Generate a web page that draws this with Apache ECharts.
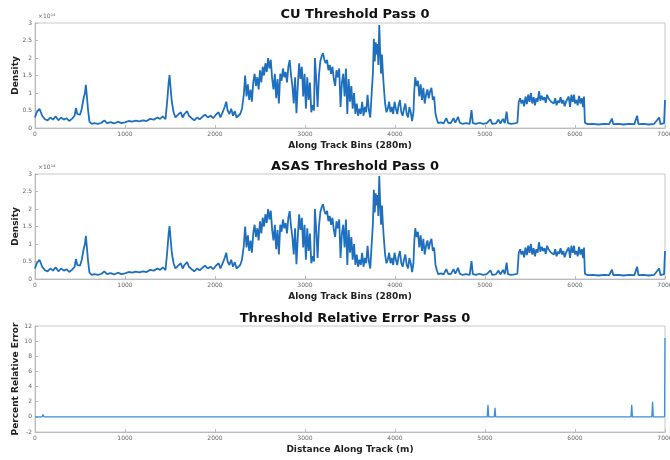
<!DOCTYPE html>
<html>
<head>
<meta charset="utf-8">
<script src="https://cdn.jsdelivr.net/npm/echarts@6/dist/echarts.min.js"></script>
<style>
html,body{margin:0;padding:0;background:#fff;}
#c{width:670px;height:460px;}
</style>
</head>
<body>
<div id="c"></div>
<script>
// Along-track bins (x) and density values in units of 1e14
const cuBins = [0,20,50,80,110,140,170,200,230,260,290,320,350,380,410,440,455,470,500,520,540,555,565,575,590,605,630,660,700,740,770,800,840,880,920,960,1000,1040,1080,1120,1160,1200,1240,1280,1320,1360,1390,1420,1450,1470,1485,1495,1505,1520,1540,1560,1590,1620,1640,1660,1690,1710,1740,1770,1800,1830,1860,1890,1920,1950,1980,2010,2040,2060,2090,2110,2125,2140,2160,2180,2200,2220,2240,2260,2280,2300,2320,2335,2350,2365,2380,2395,2410,2425,2440,2455,2470,2485,2500,2515,2530,2545,2560,2575,2590,2605,2620,2635,2650,2665,2680,2695,2710,2725,2740,2755,2770,2785,2800,2815,2830,2845,2860,2875,2890,2905,2920,2935,2950,2965,2980,2995,3010,3025,3040,3055,3070,3085,3100,3110,3125,3140,3155,3170,3185,3200,3215,3230,3245,3260,3275,3290,3305,3320,3335,3350,3365,3380,3395,3410,3425,3440,3455,3470,3485,3500,3515,3530,3545,3560,3575,3590,3605,3620,3635,3650,3665,3680,3695,3710,3725,3740,3755,3765,3775,3785,3795,3805,3815,3825,3835,3845,3855,3865,3875,3890,3905,3920,3935,3950,3965,3980,3995,4010,4025,4040,4055,4070,4085,4100,4115,4130,4145,4160,4175,4190,4205,4215,4225,4240,4255,4270,4285,4300,4315,4330,4345,4360,4375,4390,4405,4420,4435,4450,4465,4480,4510,4540,4570,4590,4620,4650,4670,4700,4720,4750,4790,4830,4850,4865,4900,4940,4980,5020,5060,5080,5120,5150,5170,5200,5220,5240,5255,5290,5330,5360,5375,5390,5405,5420,5435,5450,5465,5480,5495,5510,5525,5540,5555,5570,5585,5600,5615,5630,5645,5660,5675,5690,5705,5720,5735,5750,5765,5780,5795,5810,5825,5840,5855,5870,5885,5900,5915,5930,5945,5960,5975,5990,6000,6015,6030,6045,6060,6075,6090,6100,6110,6140,6200,6260,6320,6380,6410,6425,6480,6540,6600,6660,6690,6705,6760,6820,6880,6935,6950,6990,7000];
const cuDensity = [0.30,0.45,0.55,0.35,0.25,0.22,0.30,0.24,0.33,0.22,0.30,0.24,0.28,0.20,0.26,0.35,0.57,0.40,0.38,0.55,0.85,1.00,1.23,0.95,0.50,0.18,0.12,0.14,0.12,0.15,0.22,0.14,0.17,0.13,0.18,0.14,0.16,0.20,0.18,0.21,0.19,0.22,0.20,0.26,0.24,0.30,0.26,0.33,0.25,0.80,1.30,1.51,1.20,0.75,0.45,0.30,0.38,0.45,0.30,0.40,0.48,0.35,0.28,0.22,0.30,0.25,0.32,0.38,0.30,0.35,0.28,0.38,0.45,0.30,0.48,0.62,0.75,0.50,0.40,0.55,0.35,0.48,0.30,0.25,0.40,0.55,0.95,1.50,0.90,1.25,0.80,1.10,0.75,1.30,1.55,1.20,1.45,1.10,1.65,1.30,1.75,1.50,1.85,1.60,2.00,1.70,1.95,1.40,1.10,1.55,0.85,1.40,0.70,1.55,1.35,1.70,1.45,1.60,1.30,1.75,1.94,1.50,1.20,0.70,1.45,0.42,1.20,1.85,1.40,1.75,0.90,1.55,0.55,1.45,0.80,1.30,0.45,0.65,0.50,2.00,1.40,0.60,1.50,1.90,2.05,2.14,1.95,1.85,1.95,1.65,1.80,1.55,1.75,1.40,1.20,1.65,1.45,1.70,0.60,1.30,1.55,0.90,1.70,0.40,1.40,0.75,1.20,0.55,1.00,0.40,0.70,0.35,0.55,0.40,0.75,0.35,0.60,0.45,0.95,0.50,0.30,0.95,1.60,2.55,1.90,2.45,2.10,2.40,1.80,2.94,2.20,1.55,2.10,1.60,1.20,0.70,0.45,0.55,0.75,0.45,0.60,0.40,0.75,0.55,0.40,0.65,0.80,0.45,0.35,0.55,0.70,0.40,0.30,0.60,0.45,0.20,0.45,1.10,1.45,1.20,1.35,0.90,1.25,0.80,1.15,0.70,0.95,1.10,0.85,1.05,1.15,0.80,0.90,0.40,0.25,0.14,0.16,0.13,0.28,0.15,0.14,0.28,0.15,0.32,0.15,0.12,0.14,0.12,0.51,0.14,0.12,0.15,0.12,0.14,0.25,0.12,0.13,0.24,0.13,0.26,0.14,0.47,0.14,0.12,0.13,0.15,0.75,0.85,0.70,0.80,0.62,0.90,0.68,0.95,0.75,1.00,0.70,0.88,0.65,0.85,0.75,1.05,0.78,0.92,0.80,0.88,0.72,0.95,0.85,0.90,0.75,0.80,0.70,0.85,0.65,0.78,0.72,0.88,0.70,0.80,0.62,0.75,0.70,0.90,0.60,0.95,0.75,0.95,0.70,0.80,0.65,0.92,0.70,0.85,0.60,0.90,0.15,0.11,0.12,0.10,0.12,0.11,0.27,0.11,0.12,0.10,0.12,0.11,0.35,0.11,0.12,0.10,0.12,0.30,0.11,0.14,0.80];
// ASAS density reads identical to CU at this resolution (relative error ~0)
const asasBins = cuBins;
const asasDensity = cuDensity;
// Relative error (%) spikes
const errBins = [0,80,90,100,5025,5033,5041,5103,5111,5119,6622,6630,6638,6854,6862,6870,6995,7000];
const errValues = [0,0,0.3,0,0,1.6,0,0,1.2,0,0,1.6,0,0,2.0,0,0,10.4];

const xTicks = {min:0, max:7000, interval:1000};
const densityTicks = {min:0, max:3, interval:0.5};
const errTicks = {min:-2, max:12, interval:2};

const titles = ['CU Threshold Pass 0','ASAS Threshold Pass 0','Threshold Relative Error Pass 0'];
const xNames = ['Along Track Bins (280m)','Along Track Bins (280m)','Distance Along Track (m)'];
const yNames = ['Density','Density','Percent Relative Error'];

function pairs(xs, ys){ return xs.map((x,i)=>[x, ys[i]]); }

const chart = echarts.init(document.getElementById('c'), null, {renderer:'canvas'});
const FONT = 'DejaVu Sans';
const grids = [
  {left:35, right:5, top:23, height:105},
  {left:35, right:5, top:174, height:105},
  {left:35, right:5, top:326, height:106}
];
const titleTops = [3, 155, 307];
const yT = [densityTicks, densityTicks, errTicks];

const option = {
  animation:false,
  backgroundColor:'#fff',
  title: titles.map((t,i)=>({
    text:t, left:350, textAlign:'center', top:titleTops[i],
    textStyle:{fontFamily:FONT, fontSize:13, fontWeight:'bold', color:'#111'}
  })),
  grid: grids.map(g=>Object.assign({show:true, borderColor:'#c8c8c8', borderWidth:1, backgroundColor:'#fff', containLabel:false, outerBoundsMode:'none'}, g)),
  xAxis: [0,1,2].map(i=>({
    type:'value', gridIndex:i, min:xTicks.min, max:xTicks.max, interval:xTicks.interval,
    name:xNames[i], nameLocation:'middle', nameGap:13,
    nameTextStyle:{fontFamily:FONT, fontSize:9, fontWeight:'bold', color:'#222'},
    axisLine:{show:true, onZero:false, lineStyle:{color:'#bbb', width:1}},
    axisTick:{show:true, inside:true, length:3, lineStyle:{color:'#bbb'}},
    axisLabel:{fontFamily:FONT, fontSize:6, color:'#666', margin:3,
      formatter: v=>String(v)},
    splitLine:{show:false}
  })),
  yAxis: [0,1,2].map(i=>({
    type:'value', gridIndex:i, min:yT[i].min, max:yT[i].max, interval:yT[i].interval,
    name:yNames[i], nameLocation:'middle', nameGap:15, nameRotate:90, nameMoveOverlap:false,
    nameTextStyle:{fontFamily:FONT, fontSize:9, fontWeight:'bold', color:'#222'},
    axisLine:{show:true, lineStyle:{color:'#bbb', width:1}},
    axisTick:{show:true, inside:true, length:3, lineStyle:{color:'#bbb'}},
    axisLabel:{fontFamily:FONT, fontSize:6, color:'#666', margin:3},
    splitLine:{show:false}
  })),
  graphic: [
    {type:'text', left:38, top:13, style:{text:'×10¹⁴', fontFamily:FONT, fontSize:6, fill:'#666'}},
    {type:'text', left:38, top:164, style:{text:'×10¹⁴', fontFamily:FONT, fontSize:6, fill:'#666'}}
  ],
  series: [
    {type:'line', xAxisIndex:0, yAxisIndex:0, data:pairs(cuBins, cuDensity), showSymbol:false,
      lineStyle:{color:'#1f6fbf', width:1.8}, itemStyle:{color:'#1f6fbf'}},
    {type:'line', xAxisIndex:1, yAxisIndex:1, data:pairs(asasBins, asasDensity), showSymbol:false,
      lineStyle:{color:'#1f6fbf', width:1.8}, itemStyle:{color:'#1f6fbf'}},
    {type:'line', xAxisIndex:2, yAxisIndex:2, data:pairs(errBins, errValues), showSymbol:false,
      lineStyle:{color:'#3a8fd6', width:1.3}, itemStyle:{color:'#3a8fd6'}}
  ]
};
chart.setOption(option);
</script>
</body>
</html>
